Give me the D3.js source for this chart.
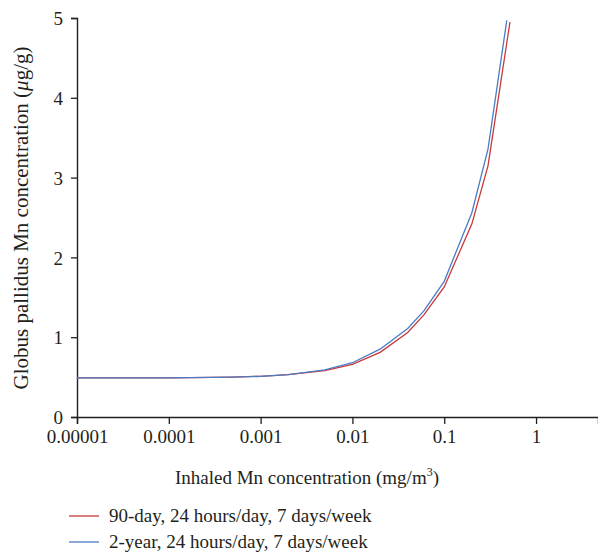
<!DOCTYPE html>
<html><head><meta charset="utf-8">
<script src="https://cdn.jsdelivr.net/npm/d3@7"></script>
<style>body{margin:0;background:#fff}svg{display:block}text{font-family:"Liberation Serif","Times New Roman",serif;fill:#231f20}</style>
</head><body><svg id="c" width="598" height="553"></svg>
<script>
const xTicks = [0.00001, 0.0001, 0.001, 0.01, 0.1, 1];
const xTickLabels = ["0.00001", "0.0001", "0.001", "0.01", "0.1", "1"];
const yTicks = [0, 1, 2, 3, 4, 5];
const xDomain = [0.00001, 4.73];
const yDomain = [0, 5];
const conc90 = [0.00001, 0.0001, 0.0005, 0.001, 0.002, 0.005, 0.01, 0.02, 0.04, 0.06, 0.1, 0.2, 0.3, 0.52];
const gp90 = [0.49, 0.49, 0.50, 0.51, 0.53, 0.58, 0.66, 0.81, 1.06, 1.28, 1.63, 2.42, 3.15, 4.95];
const conc2y = [0.00001, 0.0001, 0.0005, 0.001, 0.002, 0.005, 0.01, 0.02, 0.04, 0.06, 0.1, 0.2, 0.3, 0.48];
const gp2y = [0.49, 0.49, 0.50, 0.51, 0.53, 0.59, 0.68, 0.85, 1.11, 1.33, 1.70, 2.56, 3.36, 4.97];
const seriesNames = ["90-day, 24 hours/day, 7 days/week", "2-year, 24 hours/day, 7 days/week"];
const colors = ["#c8383c", "#4a7cc4"];

const svg = d3.select("#c");
const x = d3.scaleLog().domain(xDomain).range([77, 598]);
const y = d3.scaleLinear().domain(yDomain).range([417, 18]);
const FS = 19;

const xAxis = svg.append("g").attr("transform", "translate(0,417)")
  .call(d3.axisBottom(x).tickValues(xTicks).tickFormat((d,i)=>xTickLabels[i]).tickSizeOuter(0).tickSize(7).tickPadding(6));
const yAxis = svg.append("g").attr("transform", "translate(77,0)")
  .call(d3.axisLeft(y).tickValues(yTicks).tickFormat(d3.format("d")).tickSizeOuter(0).tickSize(6).tickPadding(8));
[xAxis, yAxis].forEach(g => {
  g.select(".domain").attr("stroke", "#231f20").attr("stroke-width", 1.4);
  g.selectAll(".tick line").attr("stroke", "#231f20").attr("stroke-width", 1.3);
  g.selectAll(".tick text").attr("font-size", FS).attr("font-family", "Liberation Serif").attr("fill", "#231f20");
});
yAxis.selectAll(".tick text").attr("dy", "0.35em");

const line = d3.line().x(d => x(d[0])).y(d => y(d[1]));
const data = [d3.zip(conc90, gp90), d3.zip(conc2y, gp2y)];
data.forEach((d, i) => {
  svg.append("path").datum(d).attr("d", line).attr("fill", "none")
    .attr("stroke", colors[i]).attr("stroke-width", 1.3);
});

// y label
const yl = svg.append("text").attr("transform", "translate(28,218) rotate(-90)")
  .attr("text-anchor", "middle").attr("font-size", 21);
yl.append("tspan").text("Globus pallidus Mn concentration (");
yl.append("tspan").attr("font-style", "italic").text("μ");
yl.append("tspan").text("g/g)");

// x label
const xl = svg.append("text").attr("x", 307).attr("y", 484).attr("text-anchor", "middle").attr("font-size", FS);
xl.append("tspan").text("Inhaled Mn concentration (mg/m");
xl.append("tspan").attr("font-size", 12).attr("dy", -8).text("3");
xl.append("tspan").attr("dy", 8).text(")");

// legend
seriesNames.forEach((n, i) => {
  const ly = 516 + i * 26;
  svg.append("line").attr("x1", 69).attr("x2", 99).attr("y1", ly).attr("y2", ly)
    .attr("stroke", colors[i]).attr("stroke-width", 1.3);
  svg.append("text").attr("x", 109).attr("y", ly + 6).attr("font-size", FS).text(n);
});
</script></body></html>
